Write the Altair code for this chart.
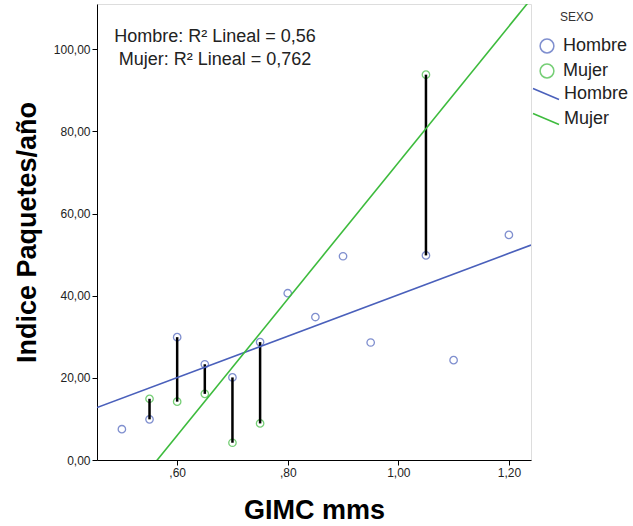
import altair as alt
import pandas as pd

# ---- data ----
sexo_cats = ["Hombre", "Mujer"]
colores = ["#4a60bb", "#3dbb3d"]

gimc_hombre = [0.50, 0.55, 0.60, 0.65, 0.70, 0.75, 0.80, 0.85, 0.90, 0.95, 1.05, 1.10, 1.20]
ipa_hombre = [7.5, 9.9, 29.9, 23.3, 20.1, 28.7, 40.6, 34.8, 49.6, 28.6, 49.8, 24.3, 54.8]
gimc_mujer = [0.55, 0.60, 0.65, 0.70, 0.75, 1.05]
ipa_mujer = [14.9, 14.2, 16.1, 4.2, 8.9, 93.8]

x_ticks = [0.6, 0.8, 1.0, 1.2]
y_ticks = [0, 20, 40, 60, 80, 100]
r2_textos = ["Hombre: R² Lineal = 0,56", "Mujer: R² Lineal = 0,762"]
leyenda_titulo = "SEXO"

# ---- tables ----
df_h = pd.DataFrame({"gimc": gimc_hombre, "ipa": ipa_hombre, "sexo": "Hombre"})
df_m = pd.DataFrame({"gimc": gimc_mujer, "ipa": ipa_mujer, "sexo": "Mujer"})
df = pd.concat([df_h, df_m], ignore_index=True)
df["linea"] = df["sexo"]

pares = pd.merge(
    df_h.assign(k=df_h["gimc"].round(2)),
    df_m.assign(k=df_m["gimc"].round(2)),
    on="k", suffixes=("_h", "_m"),
)
pares = pares.rename(columns={"k": "gimc"})[["gimc", "ipa_h", "ipa_m"]]

FONT = "Liberation Sans"
X_DOM = [0.455, 1.24]
Y_DOM = [0, 111]

x_scale = alt.Scale(domain=X_DOM, nice=False, zero=False)
y_scale = alt.Scale(domain=Y_DOM, nice=False, zero=False)

axis_common = dict(
    grid=False, domainColor="black", tickColor="black", tickSize=5,
    labelFont=FONT, labelFontSize=12, labelColor="#222", labelPadding=2,
    titleFont=FONT, titleFontSize=27, titleFontWeight="bold", titleColor="black",
)
x_axis = alt.Axis(
    title="GIMC mms", values=x_ticks,
    labelExpr="datum.value < 1 ? ',' + substring(format(datum.value, '.2f'), 2) : replace(format(datum.value, '.2f'), '.', ',')",
    titlePadding=19, **axis_common,
)
y_axis = alt.Axis(
    title="Indice Paquetes/año", values=y_ticks,
    labelExpr="replace(format(datum.value, '.2f'), '.', ',')",
    titlePadding=12, **axis_common,
)

X = alt.X("gimc:Q", scale=x_scale, axis=x_axis)
Y = alt.Y("ipa:Q", scale=y_scale, axis=y_axis)

base = alt.Chart(df)

puntos = base.mark_point(shape="circle", filled=False, size=55, strokeWidth=1.3).encode(
    x=X, y=Y,
    color=alt.Color(
        "sexo:N",
        scale=alt.Scale(domain=sexo_cats, range=colores),
        legend=alt.Legend(
            title=None, orient="none", legendX=441, legendY=33,
            symbolType="circle", symbolSize=190, symbolStrokeWidth=1.5,
            labelFont=FONT, labelFontSize=18, labelColor="#222",
            labelOffset=7, rowPadding=5, padding=0,
        ),
    ),
)

reglas = alt.Chart(pares).mark_rule(color="black", strokeWidth=2.5).encode(
    x=X,
    y=alt.Y("ipa_m:Q", scale=y_scale, axis=y_axis),
    y2="ipa_h:Q",
)

lineas = base.transform_regression(
    "gimc", "ipa", groupby=["linea"], extent=X_DOM
).mark_line(clip=True, strokeWidth=1.6).encode(
    x=X, y=Y,
    stroke=alt.Stroke(
        "linea:N",
        scale=alt.Scale(domain=sexo_cats, range=colores),
        legend=alt.Legend(
            title=None, orient="none", legendX=438, legendY=79,
            symbolType="M-1.3,-0.55L1.3,0.55", symbolSize=400, symbolStrokeWidth=1.5,
            labelFont=FONT, labelFontSize=18, labelColor="#222",
            labelOffset=7, rowPadding=5, padding=0,
        ),
    ),
)

df_r2 = pd.DataFrame({"texto": ["\n".join(r2_textos)]})
anot = alt.Chart(df_r2).mark_text(
    font=FONT, fontSize=18, color="#222", align="center", baseline="middle",
    lineBreak="\n", lineHeight=23,
).encode(x=alt.value(118), y=alt.value(33), text="texto:N")

df_tit = pd.DataFrame({"texto": [leyenda_titulo]})
tit_ley = alt.Chart(df_tit).mark_text(
    font=FONT, fontSize=12, color="#333", align="left", baseline="middle"
).encode(x=alt.value(463), y=alt.value(13), text="texto:N")

chart = alt.layer(puntos, reglas, lineas, anot, tit_ley).resolve_scale(
    color="independent", stroke="independent"
).properties(
    width=434, height=456,
    autosize=alt.AutoSizeParams(type="none"),
    padding={"left": 97, "top": 4, "right": 102, "bottom": 66},
).configure_view(
    fill="#f0f0f0", stroke="#333", strokeWidth=1,
).configure(background="white")

chart.save("out.html", embed_options={"renderer": "svg", "actions": False})
